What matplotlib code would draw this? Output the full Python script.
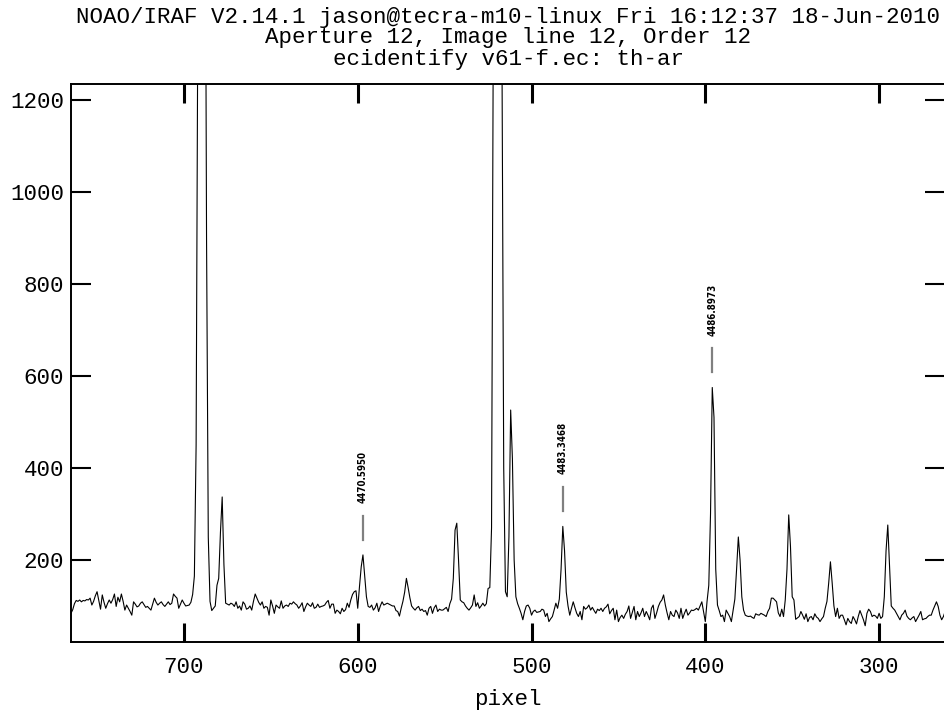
import numpy as np
import matplotlib
matplotlib.use("Agg")
import matplotlib.pyplot as plt

# spectrum counts, one value per pixel from 765 down to 262
PIX_START = 765
COUNTS = [
    84, 92, 105, 112, 110, 113, 109, 112, 111, 114,
    113, 117, 102, 110, 122, 131, 112, 93, 124, 108,
    95, 105, 113, 106, 114, 126, 99, 119, 109, 126,
    110, 91, 102, 95, 88, 80, 109, 104, 98, 100,
    106, 109, 103, 97, 99, 95, 91, 104, 117, 108,
    102, 106, 109, 103, 99, 104, 109, 103, 106, 126,
    121, 117, 95, 104, 113, 106, 100, 101, 102, 108,
    125, 165, 450, 1400, 2800, 4000, 3500, 2000, 900, 250,
    110, 90, 95, 100, 145, 160, 260, 337, 190, 106,
    104, 102, 106, 104, 99, 109, 95, 100, 91, 109,
    104, 93, 95, 100, 91, 110, 126, 117, 108, 102,
    109, 95, 99, 97, 80, 113, 100, 84, 102, 98,
    95, 111, 95, 100, 102, 99, 106, 104, 109, 105,
    102, 95, 100, 107, 88, 98, 106, 102, 99, 107,
    95, 97, 104, 97, 99, 100, 102, 108, 112, 95,
    104, 104, 84, 91, 88, 83, 95, 88, 92, 106,
    97, 113, 125, 131, 133, 95, 142, 185, 211, 165,
    120, 99, 97, 102, 91, 96, 106, 88, 100, 109,
    102, 104, 106, 104, 102, 100, 100, 90, 88, 78,
    95, 110, 130, 160, 140, 118, 100, 95, 91, 96,
    99, 90, 93, 88, 90, 80, 95, 99, 84, 96,
    102, 88, 93, 91, 91, 94, 97, 88, 105, 115,
    160, 265, 280, 200, 113, 109, 107, 100, 95, 91,
    96, 102, 124, 99, 107, 95, 100, 106, 100, 105,
    138, 140, 270, 1300, 3500, 5500, 5000, 3000, 1300, 400,
    131, 120, 250, 526, 420, 200, 120, 105, 95, 84,
    70, 88, 100, 102, 95, 80, 88, 91, 86, 87,
    88, 93, 91, 77, 84, 66, 72, 77, 91, 106,
    95, 115, 180, 273, 220, 130, 100, 80, 95, 109,
    96, 84, 77, 88, 70, 99, 93, 96, 102, 91,
    97, 90, 84, 93, 90, 95, 88, 95, 98, 104,
    83, 90, 95, 70, 91, 66, 75, 80, 73, 82,
    88, 100, 73, 86, 99, 70, 88, 77, 85, 95,
    77, 88, 80, 70, 95, 102, 73, 85, 99, 108,
    113, 124, 102, 85, 70, 88, 80, 77, 91, 85,
    73, 95, 73, 84, 93, 80, 85, 91, 90, 92,
    95, 91, 100, 109, 88, 66, 110, 145, 300, 575,
    510, 180, 102, 90, 77, 80, 66, 91, 84, 77,
    66, 91, 115, 180, 250, 200, 120, 91, 80, 78,
    77, 78, 75, 73, 83, 81, 80, 84, 82, 80,
    77, 88, 95, 117, 117, 113, 109, 85, 77, 93,
    77, 113, 180, 298, 230, 120, 113, 71, 74, 77,
    88, 80, 71, 83, 66, 75, 77, 70, 83, 76,
    73, 66, 72, 77, 95, 110, 150, 196, 150, 100,
    77, 95, 73, 80, 80, 70, 59, 73, 66, 62,
    77, 70, 61, 77, 90, 80, 70, 57, 84, 93,
    88, 77, 80, 78, 73, 84, 73, 77, 120, 220,
    276, 190, 100, 95, 91, 84, 77, 70, 80, 84,
    91, 78, 73, 70, 74, 77, 66, 73, 80, 88,
    70, 72, 73, 77, 80, 80, 91, 100, 109, 99,
    80, 70, 77, 88,
]
pixels = PIX_START - np.arange(len(COUNTS))

# identified lines
LINE_PIX = [597, 482, 396]
LINE_WAVE = ["4470.5950", "4483.3468", "4486.8973"]

TITLE = ["NOAO/IRAF V2.14.1 jason@tecra-m10-linux Fri 16:12:37 18-Jun-2010",
         "Aperture 12, Image line 12, Order 12",
         "ecidentify v61-f.ec: th-ar"]
X_TICKS = [700, 600, 500, 400, 300]
Y_TICKS = [200, 400, 600, 800, 1000, 1200]

FONT = ["Liberation Mono", "DejaVu Sans Mono"]
FS = 16.2

fig = plt.figure(figsize=(9.44, 7.10), dpi=100)
ax = fig.add_axes([0.0752, 0.0958, 0.926, 0.786])
ax.plot(pixels, COUNTS, color="black", linewidth=0.8)
ax.set_xlim(765, 262)
ax.set_ylim(21.7, 1235)

ax.set_xticks(X_TICKS)
ax.set_yticks(Y_TICKS)
ax.tick_params(axis="x", which="major", direction="in", length=13.7, width=2.2,
               top=True, bottom=True, pad=11)
ax.tick_params(axis="y", which="major", direction="in", length=14.4, width=1.5,
               left=True, right=True, pad=5)
for lab in ax.get_xticklabels() + ax.get_yticklabels():
    lab.set_fontfamily(FONT)
    lab.set_fontsize(FS)
for s in ax.spines.values():
    s.set_linewidth(1.4)

ax.set_xlabel("pixel", fontfamily=FONT, fontsize=FS, labelpad=8)

cx = 0.0752 + 0.926 / 2
for i, line in enumerate(TITLE):
    fig.text(cx, 1 - (17 + 21 * i) / 710, line, ha="center", va="center",
             fontfamily=FONT, fontsize=FS)

counts = np.array(COUNTS)
for pix, wave in zip(LINE_PIX, LINE_WAVE):
    near = np.abs(pixels - pix) <= 1
    top = counts[near].max()
    ax.plot([pix, pix], [top + 33, top + 85], color="#808080", linewidth=1.6)
    ax.text(pix, top + 113, wave, rotation=90, ha="center", va="bottom",
            fontsize=7, fontweight="bold", fontstretch="condensed",
            fontfamily=["Liberation Sans Narrow", "DejaVu Sans"])

fig.savefig("out.png", dpi=100)
